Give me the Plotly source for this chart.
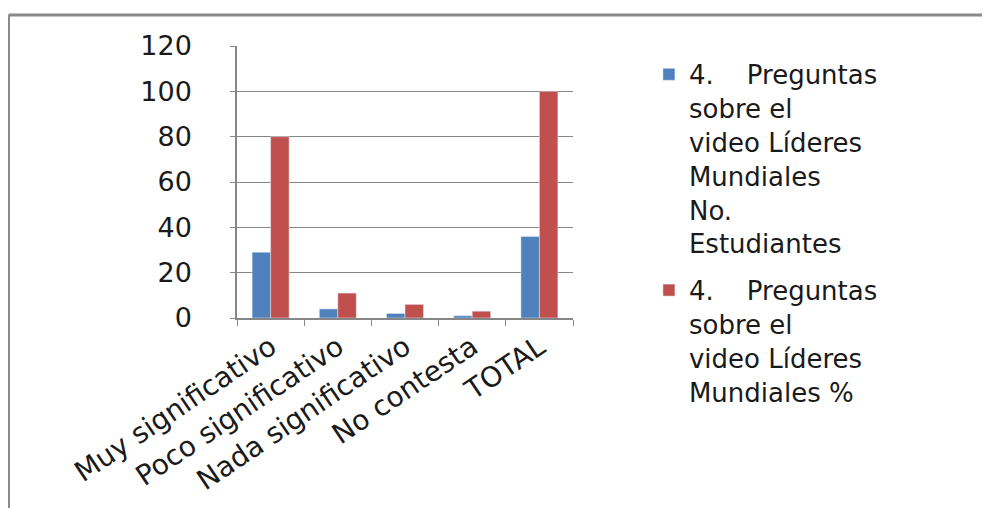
import plotly.graph_objects as go

# Datos
categorias = ["Muy significativo", "Poco significativo", "Nada significativo",
              "No contesta", "TOTAL"]
estudiantes = [29, 4, 2, 1, 36]
porcentaje = [80, 11, 6, 3, 100]

nombre_est = "4.\u00a0\u00a0\u00a0\u00a0Preguntas<br>sobre el<br>video Líderes<br>Mundiales<br>No.<br>Estudiantes"
nombre_pct = "4.\u00a0\u00a0\u00a0\u00a0Preguntas<br>sobre el<br>video Líderes<br>Mundiales %"

FONT = "DejaVu Sans"
GRIS = "#868686"

fig = go.Figure()

fig.add_trace(go.Bar(
    x=categorias, y=estudiantes, name=nombre_est,
    marker=dict(color="#4F81BD"), legendgroup="a"
))
fig.add_trace(go.Bar(
    x=categorias, y=porcentaje, name=nombre_pct,
    marker=dict(color="#C0504D"), legendgroup="b"
))

# the page adds an 8px body margin, so margins are shifted by 8px
fig.update_layout(
    width=990, height=508,
    margin=dict(l=229, r=425, t=38, b=198, autoexpand=False),
    paper_bgcolor="white", plot_bgcolor="white",
    barmode="group", bargap=0.45, bargroupgap=0,
    font=dict(family=FONT, size=23, color="#1a1a1a"),
    showlegend=True,
    legend=dict(
        x=1.226, y=0.982, xanchor="left", yanchor="top",
        valign="top", tracegroupgap=10, maxheight=480,
        font=dict(family=FONT, size=26, color="#1a1a1a"),
        bgcolor="rgba(0,0,0,0)",
    ),
    xaxis=dict(
        showline=True, linecolor=GRIS, linewidth=1.5,
        ticks="outside", tickson="boundaries", ticklen=6, tickcolor=GRIS,
        tickangle=-34, tickfont=dict(size=28),
        showgrid=False, automargin=False,
    ),
    yaxis=dict(
        range=[0, 120], dtick=20,
        showline=True, linecolor=GRIS, linewidth=1.5,
        ticks="outside", ticklen=5, tickcolor=GRIS,
        showgrid=True, gridcolor=GRIS, gridwidth=1,
        zeroline=False, ticklabelstandoff=33,
        tickfont=dict(size=27), automargin=False,
    ),
    shapes=[
        dict(type="line", xref="paper", yref="paper",
             x0=-0.68, x1=2.3, y0=1.114, y1=1.114,
             line=dict(color="#8a8a8a", width=3)),
        dict(type="line", xref="paper", yref="paper",
             x0=-0.68, x1=-0.68, y0=1.114, y1=-0.75,
             line=dict(color="#8a8a8a", width=3)),
    ],
)

fig.write_html("out.html")
